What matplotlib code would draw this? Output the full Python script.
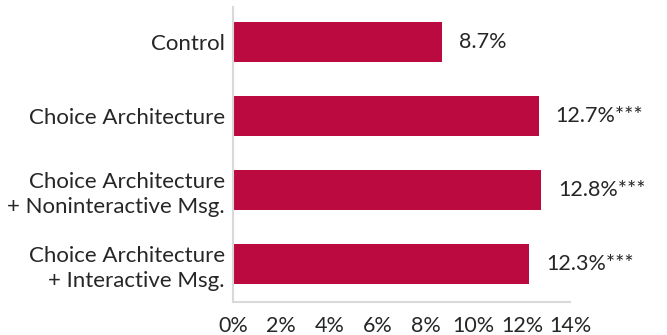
import matplotlib
matplotlib.use("Agg")
import matplotlib.pyplot as plt

plt.rcParams['font.family'] = ['Lato', 'DejaVu Sans']

# treatment arms and their rates (%)
arms = [
    "Control",
    "Choice Architecture",
    "Choice Architecture\n+ Noninteractive Msg.",
    "Choice Architecture\n+ Interactive Msg.",
]
rates = [8.7, 12.7, 12.8, 12.3]
stars = ["", "***", "***", "***"]
xticks = [0, 2, 4, 6, 8, 10, 12, 14]

bar_color = "#BA0A3F"
text_color = "#262626"
spine_color = "#D9D9D9"

fig = plt.figure(figsize=(6.67, 3.35), dpi=100)
ax = fig.add_axes([0.3493, 0.0985, 0.5053, 0.8805])

pos = list(range(len(arms)))
ax.barh(pos, rates, height=0.54, color=bar_color)

for y, r, s in zip(pos, rates, stars):
    ax.annotate(f"{r:.1f}%{s}", xy=(r, y), xytext=(17, 0), textcoords="offset pixels",
                va="center", ha="left", fontsize=15.5, color=text_color)

ax.set_xlim(0, 14)
ax.set_ylim(3.51, -0.47)
ax.set_yticks(pos)
ax.set_yticklabels(arms, fontsize=16, color=text_color, linespacing=1.3)
ax.set_xticks(xticks)
ax.set_xticklabels([f"{t}%" for t in xticks], fontsize=15.5, color=text_color)
ax.tick_params(axis="both", length=0)
ax.tick_params(axis="y", pad=6)
ax.tick_params(axis="x", pad=10)

for side in ("top", "right"):
    ax.spines[side].set_visible(False)
for side in ("left", "bottom"):
    ax.spines[side].set_color(spine_color)
    ax.spines[side].set_linewidth(1.5)

fig.savefig("out.png", dpi=100)
